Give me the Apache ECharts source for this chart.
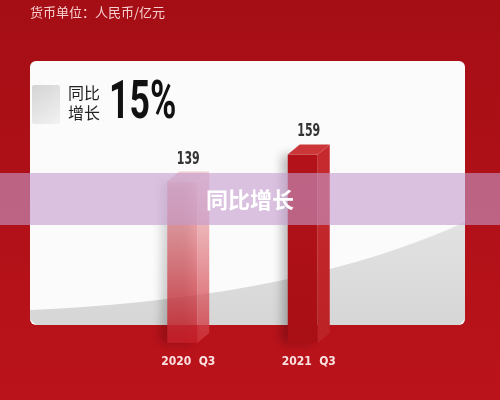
<!DOCTYPE html>
<html>
<head>
<meta charset="utf-8">
<script src="https://cdn.jsdelivr.net/npm/echarts@6/dist/echarts.min.js"></script>
<style>
  html, body { margin: 0; padding: 0; }
  #chart { width: 500px; height: 400px; }
</style>
</head>
<body>
<div id="chart"></div>
<script>
// 数据
const categories = ['2020 Q3', '2021 Q3'];
const values = [139, 159];
const growthText = '15%';
const unitText = '货币单位：人民币/亿元';

// 窄体数字字体
const narrowFont = '"DejaVu Sans Condensed", Roboto, sans-serif';

// 每根柱子的配色（正面、侧面、顶面）
const barFront = [
  ['rgba(226,130,138,0.5)', 'rgba(196,30,40,0.9)'],
  ['#b3121a', '#a80f15']
];
const barSide = [
  ['rgba(236,160,166,0.45)', 'rgba(206,52,60,0.85)'],
  ['#c62a2e', '#bb2226']
];
const barTop = ['rgba(232,170,176,0.55)', '#cc3638'];

const chart = echarts.init(document.getElementById('chart'));

function grad(c) {
  return new echarts.graphic.LinearGradient(0, 0, 0, 1, [
    { offset: 0, color: c[0] },
    { offset: 1, color: c[1] }
  ]);
}

// 面板下方灰色弧形区域
function swooshPoints() {
  const pts = [];
  for (let i = 0; i <= 20; i++) {
    const t = i / 20;
    const x = (1 - t) * (1 - t) * 30 + 2 * t * (1 - t) * 300 + t * t * 465;
    const y = (1 - t) * (1 - t) * 310 + 2 * t * (1 - t) * 298 + t * t * 222;
    pts.push([x, y]);
  }
  pts.push([465, 319], [459, 325], [36, 325], [30, 319]);
  return pts;
}

// 3D柱子
function renderBar(params, api) {
  const idx = api.value(0);
  const val = api.value(1);
  const top = api.coord([idx, val]);
  const base = api.coord([idx, 20]);
  const w = 30, dx = 12, dy = 10;
  const x0 = top[0] - 21, x1 = x0 + w;
  const yt = top[1], yb = base[1];
  return {
    type: 'group',
    children: [
      {
        type: 'rect',
        shape: { x: x0, y: yt, width: w, height: yb - yt },
        style: {
          fill: grad(barFront[idx]),
          shadowBlur: 10,
          shadowOffsetX: -6,
          shadowColor: 'rgba(0,0,0,0.25)'
        }
      },
      {
        type: 'polygon',
        shape: { points: [[x1, yt], [x1 + dx, yt - dy], [x1 + dx, yb - dy], [x1, yb]] },
        style: { fill: grad(barSide[idx]) }
      },
      {
        type: 'polygon',
        shape: { points: [[x0, yt], [x0 + dx, yt - dy], [x1 + dx, yt - dy], [x1, yt]] },
        style: { fill: barTop[idx] }
      },
      {
        type: 'text',
        x: x0 + (w + dx) / 2,
        y: yt - dy - 4,
        scaleX: 0.72,
        style: {
          text: String(val),
          x: 0,
          y: 0,
          align: 'center',
          verticalAlign: 'bottom',
          fontFamily: narrowFont,
          fontWeight: 'bold',
          fontSize: 17,
          fill: '#333'
        }
      }
    ]
  };
}

const option = {
  backgroundColor: new echarts.graphic.LinearGradient(0, 0, 0, 1, [
    { offset: 0, color: '#a50e15' },
    { offset: 1, color: '#bb131b' }
  ]),
  animation: false,
  grid: { left: 128, right: 131, top: 126, bottom: 57 },
  xAxis: {
    type: 'category',
    data: categories,
    axisLine: { show: false },
    axisTick: { show: false },
    axisLabel: {
      margin: 13,
      color: '#fbe2e2',
      fontFamily: narrowFont,
      fontWeight: 'bold',
      fontSize: 12,
      formatter: v => v.replace(' ', '  ')
    }
  },
  yAxis: {
    type: 'value',
    min: 20,
    max: 180,
    show: false
  },
  graphic: [
    {
      type: 'text', x: 30, y: 6, z: 1,
      style: { text: unitText, fill: 'rgba(255,225,225,0.92)', fontSize: 13, fontFamily: 'Noto Sans CJK SC' }
    },
    {
      type: 'rect', z: 0,
      shape: { x: 30, y: 61, width: 435, height: 264, r: 6 },
      style: { fill: '#fbfbfb' }
    },
    {
      type: 'polygon', z: 0,
      shape: { points: swooshPoints() },
      style: {
        fill: new echarts.graphic.LinearGradient(0, 0, 0, 1, [
          { offset: 0, color: '#e2e2e2' },
          { offset: 1, color: '#d6d6d6' }
        ])
      }
    },
    {
      type: 'rect', z: 1,
      shape: { x: 32, y: 85, width: 28, height: 39, r: 2 },
      style: {
        fill: new echarts.graphic.LinearGradient(0, 0, 1, 1, [
          { offset: 0, color: '#d4d4d4' },
          { offset: 1, color: '#f2f2f2' }
        ])
      }
    },
    {
      type: 'text', x: 68, y: 85, z: 1,
      style: { text: '同比', fill: '#222', fontSize: 16, fontFamily: 'Noto Sans CJK SC' }
    },
    {
      type: 'text', x: 68, y: 105, z: 1,
      style: { text: '增长', fill: '#222', fontSize: 16, fontFamily: 'Noto Sans CJK SC' }
    },
    {
      type: 'text', x: 109, y: 77, scaleX: 0.66, z: 1,
      style: { text: growthText, fill: '#111', fontSize: 54, fontWeight: 'bold', fontFamily: 'Roboto' }
    },
    {
      type: 'rect', z: 100,
      shape: { x: 0, y: 173, width: 500, height: 52 },
      style: { fill: 'rgba(197,155,205,0.6)' }
    },
    {
      type: 'text', z: 101,
      style: {
        text: '同比增长', x: 250, y: 200, align: 'center', verticalAlign: 'middle',
        fill: '#fff', fontSize: 22, fontWeight: 'bold', fontFamily: 'Noto Sans CJK SC'
      }
    }
  ],
  series: [
    {
      type: 'custom',
      z: 5,
      renderItem: renderBar,
      data: values.map((v, i) => [i, v])
    }
  ]
};

chart.setOption(option);
</script>
</body>
</html>
